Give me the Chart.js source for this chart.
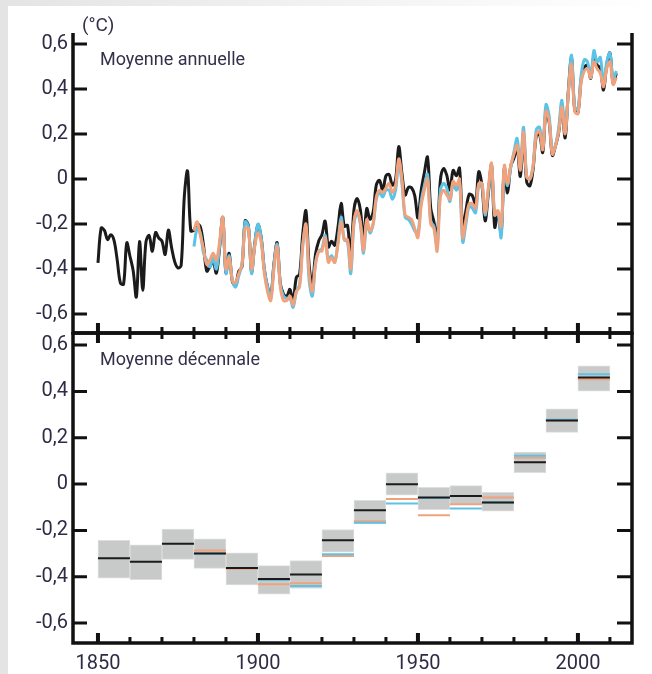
<!DOCTYPE html>
<html>
<head>
<meta charset="utf-8">
<script src="https://cdn.jsdelivr.net/npm/chart.js@4/dist/chart.umd.min.js"></script>
<style>
  html, body { margin: 0; padding: 0; }
  body { width: 652px; height: 674px; position: relative; overflow: hidden;
         background: linear-gradient(to right, #e4e4e4, #f2f2f2 50%, #ffffff); font-family: Roboto, sans-serif; }
  #card { position: absolute; left: 8px; top: 6px; width: 644px; height: 668px; background: #fff; }
  canvas { position: absolute; left: 0; }
  #top { top: 0; }
  #bottom { top: 320px; }
  .lbl { position: absolute; line-height: 1; color: #33304a; white-space: nowrap; }
</style>
</head>
<body>
<div id="card"></div>
<canvas id="top" width="652" height="340"></canvas>
<canvas id="bottom" width="652" height="354"></canvas>
<div class="lbl" style="left:82px; top:15px; font-size:19px;">(°C)</div>
<div class="lbl" style="left:100px; top:50px; font-size:18px;">Moyenne annuelle</div>
<div class="lbl" style="left:100px; top:350px; font-size:18px;">Moyenne décennale</div>
<script>
// annual anomalies, first year of each series
const blackStart = 1850;
const colourStart = 1880;

const annualBlack = [
  -0.373, -0.218, -0.228, -0.269, -0.248, -0.272, -0.358, -0.461, -0.467, -0.284,
  -0.343, -0.407, -0.524, -0.278, -0.494, -0.279, -0.251, -0.321, -0.238, -0.262,
  -0.276, -0.335, -0.227, -0.304, -0.368, -0.395, -0.384, -0.075, 0.035, -0.230,
  -0.227, -0.200, -0.213, -0.296, -0.409, -0.389, -0.367, -0.418, -0.307, -0.171,
  -0.416, -0.330, -0.455, -0.473, -0.410, -0.390, -0.186, -0.206, -0.412, -0.289,
  -0.203, -0.259, -0.402, -0.479, -0.520, -0.377, -0.283, -0.465, -0.511, -0.522,
  -0.490, -0.544, -0.437, -0.424, -0.244, -0.141, -0.383, -0.468, -0.333, -0.275,
  -0.247, -0.187, -0.302, -0.276, -0.294, -0.215, -0.108, -0.210, -0.206, -0.350,
  -0.137, -0.087, -0.137, -0.273, -0.131, -0.178, -0.147, -0.026, -0.006, -0.052,
  0.014, 0.020, -0.027, -0.004, 0.144, 0.025, -0.071, -0.038, -0.039, -0.074,
  -0.173, -0.052, 0.028, 0.097, -0.129, -0.190, -0.267, -0.007, 0.046, 0.017,
  -0.049, 0.038, 0.014, 0.048, -0.223, -0.140, -0.068, -0.074, -0.113, 0.032,
  -0.027, -0.186, -0.065, 0.062, -0.214, -0.149, -0.241, 0.047, -0.062, 0.057,
  0.092, 0.140, 0.011, 0.194, -0.014, -0.030, 0.045, 0.192, 0.198, 0.118,
  0.296, 0.254, 0.105, 0.148, 0.208, 0.325, 0.183, 0.390, 0.539, 0.306,
  0.294, 0.441, 0.496, 0.505, 0.447, 0.545, 0.506, 0.491, 0.395, 0.506,
  0.560, 0.425, 0.470
];

const annualOrange = [
  -0.23, -0.19, -0.25, -0.31, -0.38, -0.36, -0.33, -0.36, -0.28, -0.17,
  -0.40, -0.35, -0.45, -0.46, -0.42, -0.38, -0.22, -0.22, -0.40, -0.30,
  -0.24, -0.28, -0.42, -0.50, -0.54, -0.40, -0.30, -0.48, -0.54, -0.54,
  -0.52, -0.56, -0.50, -0.48, -0.30, -0.20, -0.42, -0.50, -0.38, -0.32,
  -0.32, -0.26, -0.37, -0.35, -0.37, -0.29, -0.19, -0.27, -0.27, -0.40,
  -0.19, -0.14, -0.19, -0.32, -0.18, -0.23, -0.20, -0.08, -0.05, -0.06,
  -0.04, -0.02, -0.06, -0.03, 0.09, 0.00, -0.16, -0.17, -0.18, -0.22,
  -0.26, -0.12, -0.05, 0.00, -0.20, -0.22, -0.32, -0.08, -0.05, -0.07,
  -0.09, -0.01, -0.03, 0.00, -0.26, -0.18, -0.11, -0.11, -0.13, -0.02,
  -0.02, -0.15, -0.04, 0.07, -0.16, -0.14, -0.21, 0.06, -0.02, 0.06,
  0.11, 0.15, 0.04, 0.21, 0.01, 0.00, 0.06, 0.20, 0.21, 0.13,
  0.30, 0.26, 0.11, 0.15, 0.21, 0.32, 0.20, 0.38, 0.51, 0.30,
  0.29, 0.43, 0.48, 0.49, 0.45, 0.52, 0.49, 0.47, 0.41, 0.49,
  0.52, 0.42, 0.45
];

const annualBlue = [
  -0.30, -0.22, -0.24, -0.33, -0.36, -0.39, -0.35, -0.40, -0.30, -0.17,
  -0.42, -0.34, -0.45, -0.48, -0.43, -0.38, -0.19, -0.21, -0.42, -0.29,
  -0.20, -0.26, -0.40, -0.48, -0.53, -0.38, -0.29, -0.47, -0.52, -0.53,
  -0.53, -0.57, -0.50, -0.47, -0.29, -0.21, -0.45, -0.52, -0.37, -0.32,
  -0.31, -0.25, -0.36, -0.34, -0.37, -0.28, -0.17, -0.27, -0.28, -0.42,
  -0.20, -0.15, -0.20, -0.33, -0.19, -0.24, -0.20, -0.09, -0.06, -0.08,
  -0.05, -0.05, -0.09, -0.05, 0.07, -0.02, -0.17, -0.18, -0.20, -0.23,
  -0.24, -0.10, -0.03, 0.02, -0.19, -0.21, -0.30, -0.05, -0.02, -0.04,
  -0.10, -0.02, -0.05, -0.02, -0.28, -0.20, -0.12, -0.13, -0.15, -0.03,
  -0.02, -0.16, -0.05, 0.06, -0.16, -0.15, -0.26, 0.04, -0.03, 0.05,
  0.12, 0.18, 0.05, 0.23, 0.01, 0.00, 0.06, 0.22, 0.23, 0.14,
  0.33, 0.28, 0.12, 0.15, 0.23, 0.35, 0.21, 0.38, 0.55, 0.32,
  0.31, 0.46, 0.53, 0.52, 0.45, 0.57, 0.52, 0.54, 0.42, 0.52,
  0.56, 0.44, 0.48
];

// decadal means and uncertainty boxes
const decadeStarts = [1850, 1860, 1870, 1880, 1890, 1900, 1910, 1920, 1930, 1940, 1950, 1960, 1970, 1980, 1990, 2000];
const decBlack  = [-0.32, -0.335, -0.258, -0.30, -0.362, -0.41, -0.39, -0.243, -0.113, -0.001, -0.058, -0.051, -0.08, 0.094, 0.274, 0.46];
const decOrange = [null, null, null, -0.287, -0.365, -0.432, -0.428, -0.31, -0.160, -0.065, -0.135, -0.087, -0.058, 0.114, 0.274, 0.452];
const decBlue   = [null, null, null, -0.30, -0.362, -0.414, -0.44, -0.303, -0.167, -0.084, -0.06, -0.106, -0.08, 0.122, 0.278, 0.474];
const boxHigh   = [-0.243, -0.262, -0.194, -0.236, -0.297, -0.352, -0.33, -0.196, -0.07, 0.049, -0.014, -0.007, -0.036, 0.138, 0.325, 0.51];
const boxLow    = [-0.406, -0.413, -0.325, -0.364, -0.435, -0.475, -0.45, -0.294, -0.171, -0.048, -0.11, -0.088, -0.117, 0.049, 0.223, 0.401];

// axes
const yTicks = [-0.6, -0.4, -0.2, 0, 0.2, 0.4, 0.6];
const xTicks = [1850, 1900, 1950, 2000];
const xMinor = [1860, 1870, 1880, 1890, 1910, 1920, 1930, 1940, 1960, 1970, 1980, 1990, 2010];
const xMin = 1842.2, xMax = 2016.9;

const BLACK = '#1b1b1b';
const BLUE = '#5cc3e6';
const ORANGE = '#f0a27c';
const TEXT = '#2e2c44';

Chart.defaults.font.family = 'Roboto';
Chart.defaults.color = TEXT;
Chart.defaults.animation = false;

function yearSeries(values, start) {
    return values.map((v, i) => ({ x: start + i, y: v }));
}

function decadeSegments(values) {
    let pts = [];
    decadeStarts.forEach((s, i) => {
        if (values[i] === null) return;
        pts.push({ x: s, y: values[i] });
        pts.push({ x: s + 10, y: values[i] });
        pts.push({ x: s + 10, y: null });
    });
    return pts;
}

function fmt(v) {
    if (Math.abs(v) < 1e-9) return '0';
    return v.toFixed(1).replace('.', ',');
}

// frame with inward ticks, drawn over the data
const framePlugin = {
    id: 'frame',
    afterDatasetsDraw(chart, args, opts) {
        const ctx = chart.ctx;
        const a = chart.chartArea;
        const x = chart.scales.x;
        const y = chart.scales.y;
        ctx.save();
        ctx.strokeStyle = '#111';
        ctx.lineCap = 'butt';
        ctx.lineWidth = 3.5;
        ctx.beginPath();
        ctx.moveTo(a.left, a.top - 1);
        ctx.lineTo(a.left, a.bottom + 1.75);
        ctx.moveTo(a.right, a.top - 1);
        ctx.lineTo(a.right, a.bottom + 1.75);
        ctx.moveTo(a.left, a.bottom);
        ctx.lineTo(a.right, a.bottom);
        if (opts.topLine) {
            ctx.moveTo(a.left, a.top);
            ctx.lineTo(a.right, a.top);
        }
        ctx.stroke();

        ctx.lineWidth = 3;
        ctx.beginPath();
        yTicks.forEach(v => {
            const py = y.getPixelForValue(v);
            ctx.moveTo(a.left, py);
            ctx.lineTo(a.left + 14, py);
            ctx.moveTo(a.right - 15, py);
            ctx.lineTo(a.right, py);
        });
        ctx.stroke();

        const drawX = (vals, len, width) => {
            ctx.lineWidth = width;
            ctx.beginPath();
            vals.forEach(v => {
                const px = x.getPixelForValue(v);
                ctx.moveTo(px, a.bottom);
                ctx.lineTo(px, a.bottom - len);
                if (opts.topLine) {
                    ctx.moveTo(px, a.top);
                    ctx.lineTo(px, a.top + len);
                }
            });
            ctx.stroke();
        };
        drawX(xMinor, 6, 3);
        drawX(xTicks, 10, 4);
        ctx.restore();
    }
};

function yScale(min, max) {
    return {
        min: min,
        max: max,
        afterBuildTicks: s => { s.ticks = yTicks.map(v => ({ value: v })); },
        afterFit: s => { s.width = 73; s.paddingTop = 0; s.paddingBottom = 0; },
        grid: { display: false, drawTicks: false },
        border: { display: false },
        ticks: { padding: 5, font: { size: 20 }, color: TEXT, callback: v => fmt(v) }
    };
}

function annualChart() {
    const ctx = document.querySelector('#top');
    const lineStyle = { pointRadius: 0, borderWidth: 3, tension: 0.35, fill: false };
    new Chart(ctx, {
        type: 'line',
        data: {
            datasets: [
                Object.assign({ data: yearSeries(annualOrange, colourStart), borderColor: ORANGE, order: 1 }, lineStyle),
                Object.assign({ data: yearSeries(annualBlue, colourStart), borderColor: BLUE, order: 2 }, lineStyle),
                Object.assign({ data: yearSeries(annualBlack, blackStart), borderColor: BLACK, order: 3 }, lineStyle)
            ]
        },
        options: {
            responsive: false,
            layout: { padding: { top: 34, right: 20, bottom: 7, left: 0 } },
            plugins: { legend: { display: false }, tooltip: { enabled: false }, frame: { topLine: false } },
            scales: {
                x: { type: 'linear', min: xMin, max: xMax, display: false },
                y: yScale(-0.684, 0.644)
            }
        },
        plugins: [framePlugin]
    });
}

function decadalChart() {
    const ctx = document.querySelector('#bottom');
    const seg = { type: 'line', pointRadius: 0, borderWidth: 2, tension: 0, spanGaps: false, fill: false };
    new Chart(ctx, {
        type: 'bar',
        data: {
            datasets: [
                Object.assign({ data: decadeSegments(decBlack), borderColor: BLACK, order: 1 }, seg),
                Object.assign({ data: decadeSegments(decBlue), borderColor: BLUE, order: 2 }, seg),
                Object.assign({ data: decadeSegments(decOrange), borderColor: ORANGE, order: 3 }, seg),
                {
                    type: 'bar',
                    data: decadeStarts.map((s, i) => ({ x: s + 5, y: [boxLow[i], boxHigh[i]] })),
                    backgroundColor: '#c8c9c9',
                    borderColor: '#dedede',
                    borderWidth: 1,
                    borderSkipped: false,
                    barPercentage: 1,
                    categoryPercentage: 1,
                    grouped: false,
                    order: 4
                }
            ]
        },
        options: {
            responsive: false,
            layout: { padding: { top: 13, right: 20, bottom: 0, left: 0 } },
            plugins: { legend: { display: false }, tooltip: { enabled: false }, frame: { topLine: true } },
            scales: {
                x: {
                    type: 'linear',
                    min: xMin,
                    max: xMax,
                    offset: false,
                    afterBuildTicks: s => { s.ticks = xTicks.map(v => ({ value: v })); },
                    afterFit: s => { s.height = 31; s.paddingLeft = 0; s.paddingRight = 0; },
                    grid: { display: false, drawTicks: false },
                    border: { display: false },
                    ticks: { padding: 9, font: { size: 20 }, color: TEXT, maxRotation: 0, callback: v => String(v) }
                },
                y: yScale(-0.686, 0.652)
            }
        },
        plugins: [framePlugin]
    });
}

annualChart();
decadalChart();
</script>
</body>
</html>
